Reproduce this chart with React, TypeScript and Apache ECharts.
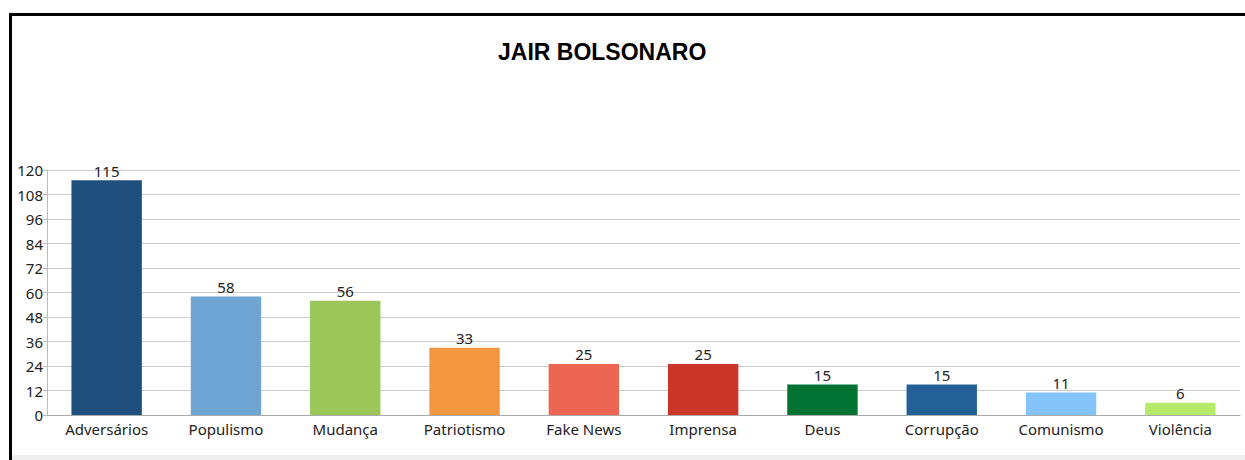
import React, { useEffect, useRef } from "react";
import * as echarts from "echarts";

const categories = ["Adversários", "Populismo", "Mudança", "Patriotismo", "Fake News", "Imprensa", "Deus", "Corrupção", "Comunismo", "Violência"];
const values = [115, 58, 56, 33, 25, 25, 15, 15, 11, 6];
const barColors = ["#1f4f7d", "#6fa5d3", "#9bc75a", "#f39640", "#ec6652", "#cc3628", "#007232", "#226096", "#84c4fa", "#b7e96b"];
const titleText = "JAIR BOLSONARO";

export default function App() {
  const ref = useRef<HTMLDivElement>(null);
  useEffect(() => {
    if (!ref.current) return;
    const chart = echarts.init(ref.current, null, { renderer: "svg" });
    chart.setOption({
      animation: false,
      backgroundColor: "#ffffff",
      title: {
        text: titleText,
        left: 493,
        top: 35,
        textStyle: { fontFamily: "Liberation Sans, Arial, sans-serif", fontSize: 23, fontWeight: "bold", color: "#000" },
      },
      graphic: [
        { type: "rect", shape: { x: 9, y: 13, width: 1236, height: 3 }, style: { fill: "#000" }, silent: true },
        { type: "rect", shape: { x: 9, y: 13, width: 3, height: 447 }, style: { fill: "#000" }, silent: true },
        { type: "rect", shape: { x: 12, y: 455, width: 1233, height: 5 }, style: { fill: "#efefef" }, silent: true },
      ],
      grid: { left: 47, right: 5, top: 170, bottom: 45, containLabel: false },
      xAxis: {
        type: "category",
        data: categories,
        axisLine: { show: true, lineStyle: { color: "#aaa", width: 1 } },
        axisTick: { show: false },
        axisLabel: { color: "#222", fontFamily: "Noto Sans, sans-serif", fontSize: 15, margin: 6, interval: 0 },
      },
      yAxis: {
        type: "value",
        min: 0,
        max: 120,
        interval: 12,
        axisLine: { show: true, lineStyle: { color: "#bbb", width: 1 } },
        axisTick: { show: true, length: 4, lineStyle: { color: "#bbb" } },
        axisLabel: { color: "#222", fontFamily: "Noto Sans, sans-serif", fontSize: 15, margin: 4 },
        splitLine: { show: true, lineStyle: { color: "#ccc", width: 1 } },
      },
      series: [
        {
          type: "bar",
          data: values.map((v, i) => ({ value: v, itemStyle: { color: barColors[i] } })),
          barWidth: "59%",
          label: {
            show: true,
            position: "top",
            distance: 2,
            color: "#222",
            fontFamily: "Noto Sans, sans-serif",
            fontSize: 15,
          },
        },
      ],
    });
    return () => chart.dispose();
  }, []);
  return <div ref={ref} style={{ position: "fixed", left: 0, top: 0, width: 1245, height: 460 }} />;
}
